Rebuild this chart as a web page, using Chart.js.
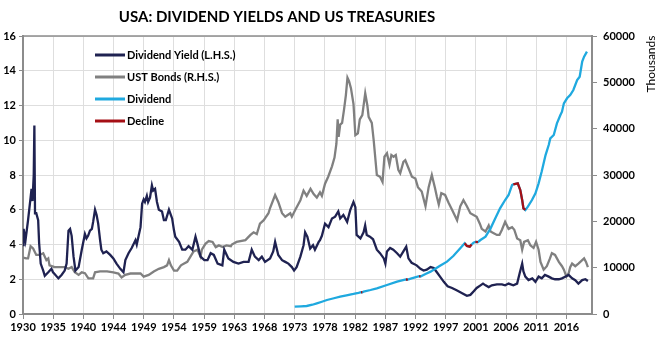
<!DOCTYPE html>
<html>
<head>
<meta charset="utf-8">
<script src="https://cdn.jsdelivr.net/npm/chart.js@4.4.0/dist/chart.umd.min.js"></script>
<style>
    html, body { margin: 0; padding: 0; background: #fff; }
</style>
</head>
<body>
<canvas id="myChart" width="665" height="338"></canvas>
<script>

const tickLabels = ['1930', '1935', '1940', '1944', '1949', '1954', '1959', '1963', '1968', '1973',
    '1978', '1982', '1987', '1992', '1997', '2001', '2006', '2011', '2016'];

const yieldYears = [1930.0, 1930.1, 1930.4, 1930.8, 1931.2, 1931.35, 1931.5, 1931.7, 1931.8, 1931.9,
    1932.1, 1932.4, 1932.55, 1932.8, 1933.2, 1933.45, 1934.0, 1934.5, 1934.75, 1935.0,
    1935.6, 1936.1, 1936.6, 1936.9, 1937.2, 1937.45, 1937.7, 1938.0, 1938.3, 1938.8,
    1939.3, 1939.8, 1940.05, 1940.3, 1940.6, 1940.9, 1941.1, 1941.4, 1941.65, 1941.9,
    1942.2, 1942.4, 1942.7, 1943.2, 1943.8, 1944.3, 1944.8, 1945.4, 1945.9, 1946.2,
    1946.7, 1947.2, 1947.8, 1948.0, 1948.3, 1948.6, 1948.85, 1949.1, 1949.3, 1949.6,
    1949.8, 1950.1, 1950.4, 1950.6, 1950.9, 1951.2, 1951.5, 1952.0, 1952.3, 1952.6,
    1953.1, 1953.6, 1953.9, 1954.1, 1954.7, 1955.2, 1955.7, 1956.2, 1956.8, 1957.3,
    1957.6, 1958.1, 1958.7, 1959.2, 1959.7, 1960.2, 1960.8, 1961.55, 1961.85, 1962.5,
    1963.3, 1964.1, 1964.9, 1965.7, 1966.2, 1966.7, 1967.3, 1967.8, 1968.3, 1969.1,
    1969.6, 1969.9, 1970.4, 1971.0, 1971.5, 1972.0, 1972.55, 1972.9, 1973.3, 1973.9,
    1974.4, 1974.65, 1975.0, 1975.45, 1975.9, 1976.2, 1976.8, 1977.0, 1977.3, 1977.8,
    1978.35, 1978.9, 1979.4, 1979.9, 1980.2, 1980.7, 1981.3, 1981.8, 1982.3, 1982.6,
    1982.8, 1983.4, 1983.9, 1984.15, 1984.4, 1984.9, 1985.4, 1986.0, 1986.5, 1987.1,
    1987.35, 1987.6, 1988.1, 1988.6, 1989.2, 1989.7, 1990.2, 1990.65, 1991.0, 1991.5,
    1992.3, 1992.9, 1993.4, 1993.9, 1994.5, 1995.0, 1995.5, 1996.0, 1996.6, 1997.2,
    1997.9, 1998.7, 1999.5, 2000.25, 2000.8, 2001.3, 2001.8, 2002.4, 2002.8, 2003.2,
    2003.7, 2004.2, 2005.0, 2005.8, 2006.3, 2006.85, 2007.6, 2008.2, 2008.6, 2009.0,
    2009.2, 2009.5, 2010.0, 2010.6, 2011.1, 2011.6, 2012.1, 2012.6, 2013.2, 2013.7,
    2014.2, 2014.8, 2015.3, 2015.8, 2016.35, 2016.9, 2017.4, 2017.9, 2018.5, 2019.0,
    2019.4];
const yieldValues = [3.96, 4.9, 4.25, 5.4, 6.7, 7.2, 6.5, 8.0, 10.85, 5.8,
    5.8, 5.4, 4.1, 2.9, 2.5, 2.2, 2.4, 2.6, 2.4, 2.3,
    2.05, 2.25, 2.5, 2.9, 4.8, 4.9, 4.5, 3.3, 2.5, 2.7,
    3.7, 4.6, 4.35, 4.5, 4.8, 4.9, 5.3, 6.0, 5.7, 5.2,
    4.25, 3.7, 3.5, 3.6, 3.4, 3.2, 2.9, 2.6, 2.4, 3.1,
    3.5, 3.8, 4.25, 4.0, 4.5, 5.0, 6.35, 6.6, 6.45, 6.8,
    6.45, 6.7, 7.4, 7.1, 7.2, 6.45, 6.0, 5.9, 5.4, 5.4,
    6.0, 5.5, 4.8, 4.45, 4.15, 3.7, 3.7, 3.9, 3.7, 4.45,
    4.05, 3.3, 3.1, 3.1, 3.5, 3.4, 2.9, 2.8, 3.7, 3.2,
    3.0, 2.9, 3.0, 3.0, 3.7, 3.3, 3.1, 3.3, 3.0, 3.2,
    3.6, 4.15, 3.4, 3.1, 3.0, 2.9, 2.7, 2.5, 2.7, 3.3,
    3.96, 4.7, 4.45, 3.77, 3.96, 3.7, 4.15, 4.25, 4.5, 5.2,
    5.0, 5.5, 5.6, 5.9, 5.5, 5.7, 5.3, 6.0, 6.45, 6.15,
    4.55, 4.35, 4.7, 5.1, 4.55, 4.45, 4.3, 3.7, 3.5, 3.2,
    2.9, 3.6, 3.8, 3.7, 3.5, 3.3, 3.6, 3.87, 3.2, 2.95,
    2.8, 2.6, 2.5, 2.55, 2.7, 2.65, 2.4, 2.15, 1.85, 1.6,
    1.5, 1.35, 1.2, 1.05, 1.1, 1.3, 1.5, 1.65, 1.75, 1.65,
    1.55, 1.65, 1.7, 1.7, 1.65, 1.75, 1.65, 1.75, 2.35, 2.9,
    2.45, 2.15, 1.95, 2.05, 1.85, 2.15, 2.05, 2.25, 2.15, 2.05,
    2.0, 2.0, 2.05, 2.15, 2.25, 2.05, 1.95, 1.75, 1.95, 2.0,
    1.9];

const bondYears = [1930.0, 1930.5, 1930.8, 1931.2, 1931.6, 1932.1, 1932.6, 1933.2, 1933.7, 1934.0,
    1934.2, 1935.0, 1935.8, 1936.6, 1937.2, 1937.7, 1938.2, 1938.8, 1939.3, 1939.8,
    1940.35, 1941.1, 1941.4, 1942.2, 1943.3, 1944.3, 1945.1, 1945.6, 1946.2, 1947.0,
    1947.8, 1948.6, 1949.1, 1949.9, 1950.7, 1951.5, 1952.3, 1952.8, 1953.1, 1953.4,
    1953.9, 1954.4, 1955.0, 1955.5, 1956.0, 1956.5, 1957.0, 1957.6, 1958.1, 1958.3,
    1958.9, 1959.4, 1960.0, 1960.5, 1961.0, 1961.6, 1962.2, 1962.9, 1963.05, 1963.8,
    1965.2, 1966.0, 1966.5, 1967.0, 1967.5, 1968.1, 1968.85, 1969.1, 1969.9, 1970.4,
    1971.0, 1971.5, 1972.3, 1972.55, 1973.1, 1973.9, 1974.4, 1974.9, 1975.5, 1976.0,
    1976.5, 1977.0, 1977.3, 1977.8, 1978.3, 1978.9, 1979.3, 1979.6, 1979.8, 1979.95,
    1980.2, 1980.5, 1980.8, 1981.1, 1981.35, 1981.6, 1981.9, 1982.3, 1982.6, 1983.0,
    1983.3, 1983.7, 1984.16, 1984.5, 1984.7, 1985.2, 1985.5, 1986.0, 1986.5, 1986.9,
    1987.2, 1987.6, 1988.0, 1988.3, 1988.65, 1989.0, 1989.4, 1989.7, 1990.2, 1990.5,
    1991.0, 1991.55, 1992.1, 1992.5, 1993.1, 1993.7, 1994.2, 1994.7, 1995.2, 1995.5,
    1995.8, 1996.2, 1996.8, 1997.35, 1997.9, 1998.7, 1999.2, 1999.7, 2000.25, 2000.8,
    2001.3, 2001.8, 2002.3, 2002.6, 2003.2, 2003.7, 2004.0, 2004.5, 2005.0, 2005.4,
    2005.8, 2006.3, 2006.85, 2007.4, 2007.75, 2008.2, 2008.7, 2009.0, 2009.3, 2009.9,
    2010.3, 2010.8, 2011.2, 2011.6, 2011.9, 2012.4, 2012.9, 2013.4, 2013.7, 2014.2,
    2014.8, 2015.3, 2015.6, 2016.0, 2016.35, 2016.6, 2016.9, 2017.4, 2017.9, 2018.5,
    2018.8, 2019.1, 2019.4];
const bondValues = [3.25, 3.2, 3.2, 3.9, 3.77, 3.4, 3.4, 3.5, 3.1, 3.2,
    2.8, 2.7, 2.7, 2.7, 2.6, 2.7, 2.4, 2.25, 2.4, 2.35,
    2.05, 2.05, 2.4, 2.45, 2.45, 2.4, 2.33, 2.1, 2.25, 2.33,
    2.33, 2.33, 2.15, 2.25, 2.45, 2.6, 2.7, 2.8, 3.1, 2.8,
    2.5, 2.5, 2.8, 2.9, 3.0, 3.3, 3.6, 3.7, 3.3, 3.7,
    4.05, 4.2, 4.15, 3.85, 3.95, 3.85, 3.95, 3.9, 4.0, 4.15,
    4.25, 4.55, 4.7, 4.6, 5.2, 5.4, 5.8, 6.1, 6.85, 6.45,
    5.8, 5.6, 5.8, 5.6, 6.0, 6.55, 7.1, 6.8, 7.2, 6.9,
    6.7, 7.0, 6.8, 7.5, 7.9, 8.5, 9.0, 9.8, 11.2, 10.2,
    10.9, 11.0, 11.75, 12.6, 13.6, 13.4, 13.0, 12.1, 10.3, 10.4,
    11.2, 11.45, 12.7, 12.0, 11.35, 11.0, 10.0, 8.0, 7.9, 7.6,
    9.05, 9.25, 8.6, 9.15, 9.05, 9.15, 8.3, 8.1, 8.75, 8.85,
    8.4, 7.9, 7.8, 7.3, 7.05, 6.2, 7.3, 8.0, 7.25, 6.75,
    6.3, 6.95, 6.85, 6.4, 6.0, 5.4, 6.2, 6.55, 6.2, 5.8,
    5.7, 5.6, 5.2, 4.9, 4.75, 5.1, 4.75, 4.65, 4.55, 4.55,
    4.85, 5.3, 4.9, 5.0, 4.85, 4.35, 4.25, 3.7, 4.15, 4.25,
    3.95, 3.8, 4.15, 3.7, 3.0, 2.55, 2.75, 3.2, 3.5, 3.4,
    3.0, 2.75, 2.55, 2.15, 2.35, 2.7, 2.9, 2.75, 2.9, 3.1,
    3.2, 3.0, 2.7];

const divYears = [1973.0, 1974.0, 1974.9, 1975.8, 1976.5, 1977.3, 1978.1, 1979.2, 1980.2, 1981.2,
    1982.3, 1983.1, 1983.5, 1983.7, 1983.9, 1985.0, 1986.0, 1987.6, 1989.2, 1990.6,
    1990.9, 1991.5, 1992.7, 1992.9, 1993.7, 1994.5, 1995.3, 1996.0, 1997.1, 1998.1,
    1999.2, 1999.9, 2000.25, 2000.7, 2001.0, 2001.3, 2001.6, 2002.0, 2002.4, 2003.2,
    2004.0, 2004.75, 2005.5, 2006.3, 2006.85, 2007.4, 2007.6, 2008.3, 2008.7, 2009.0,
    2009.2, 2009.5, 2009.9, 2010.55, 2011.1, 2011.6, 2012.1, 2012.7, 2013.2, 2013.45,
    2014.0, 2014.5, 2015.05, 2015.3, 2015.6, 2016.1, 2016.6, 2017.1, 2017.7, 2018.1,
    2018.5, 2018.8, 2019.25];
const divValues = [1580, 1650, 1730, 2000, 2300, 2650, 3020, 3400, 3740, 4030,
    4320, 4570, 4720, 4690, 4820, 5180, 5540, 6260, 6980, 7450,
    7420, 7700, 8150, 8100, 8650, 9140, 9800, 10400, 11300, 12520,
    14170, 15250, 14680, 14530, 15000, 15400, 15550, 15500, 15970, 16690,
    18490, 20650, 22800, 24600, 25680, 27840, 28000, 28200, 26760, 24600,
    22800, 22450, 23160, 24600, 26040, 28200, 30800, 34300, 36470, 37900,
    38630, 41150, 42950, 43670, 45470, 46550, 47260, 48340, 50500, 51220,
    54460, 55540, 56620];
const declineValues = [null, null, null, null, null, null, null, null, null, null,
    null, null, 4720, 4690, null, null, null, null, null, 7450,
    7420, null, 8150, 8100, null, null, null, null, null, null,
    null, 15250, 14680, 14530, 15000, null, 15550, 15500, null, null,
    null, null, null, null, null, null, 28000, 28200, 26760, 24600,
    22800, 22450, null, null, null, null, null, null, null, null,
    null, null, null, null, null, null, null, null, null, null,
    null, null, null];

const tickStep = 86 / 18;
const fontFamily = 'Lato, "Open Sans", sans-serif';

function toPoints(xs, ys){
    return xs.map((x, i) => ({ x: x, y: ys[i] }));
}

const titlePlugin = {
    id: 'titlePlugin',
    afterDraw(chart){
        const ctx = chart.ctx;
        const area = chart.chartArea;
        ctx.save();
        ctx.fillStyle = '#000';
        ctx.font = 'bold 15px ' + fontFamily;
        ctx.textAlign = 'center';
        ctx.textBaseline = 'middle';
        ctx.fillText('USA: DIVIDEND YIELDS AND US TREASURIES', 277, 17);

        // top border of the plot
        ctx.strokeStyle = '#8c8c8c';
        ctx.lineWidth = 1.5;
        ctx.beginPath();
        ctx.moveTo(area.left, area.top);
        ctx.lineTo(area.right, area.top);
        ctx.stroke();

        // right axis title, reads bottom to top
        ctx.font = '12px ' + fontFamily;
        ctx.translate(651, 64);
        ctx.rotate(-Math.PI / 2);
        ctx.fillText('Thousands', 0, 0);
        ctx.restore();
    }
};

const legendPlugin = {
    id: 'legendPlugin',
    afterDraw(chart){
        const ctx = chart.ctx;
        ctx.save();
        ctx.font = 'bold 11px ' + fontFamily;
        ctx.textBaseline = 'middle';
        ctx.textAlign = 'left';
        chart.data.datasets.forEach((ds, i) => {
            const y = 55 + i * 22;
            ctx.strokeStyle = ds.borderColor;
            ctx.lineWidth = 3;
            ctx.beginPath();
            ctx.moveTo(95, y);
            ctx.lineTo(125, y);
            ctx.stroke();
            ctx.fillStyle = '#000';
            ctx.fillText(ds.label, 127, y);
        });
        ctx.restore();
    }
};

function getChart(){
    const ctx = document.getElementById('myChart');

    new Chart(ctx, {
        type: 'line',
        data: {
            datasets: [{
                label: 'Dividend Yield (L.H.S.)',
                data: toPoints(yieldYears, yieldValues),
                borderColor: '#1f2251',
                yAxisID: 'y',
                order: 2
            }, {
                label: 'UST Bonds (R.H.S.)',
                data: toPoints(bondYears, bondValues),
                borderColor: '#808080',
                yAxisID: 'y',
                order: 3
            }, {
                label: 'Dividend',
                data: toPoints(divYears, divValues),
                borderColor: '#1fa9df',
                yAxisID: 'y1',
                order: 1
            }, {
                label: 'Decline',
                data: toPoints(divYears, declineValues),
                borderColor: '#a50f15',
                yAxisID: 'y1',
                spanGaps: false,
                order: 0
            }]
        },
        options: {
            responsive: false,
            animation: false,
            devicePixelRatio: 1,
            layout: { padding: { top: 36, left: 0, right: 0, bottom: 0 } },
            elements: {
                point: { radius: 0 },
                line: { borderWidth: 2.3, tension: 0, fill: false }
            },
            plugins: {
                legend: { display: false },
                tooltip: { enabled: false },
                title: { display: false }
            },
            scales: {
                x: {
                    type: 'linear',
                    min: 1930,
                    max: 2020.05,
                    afterBuildTicks: (scale) => {
                        scale.ticks = tickLabels.map((t, i) => ({ value: 1930 + i * tickStep }));
                    },
                    afterFit: (scale) => { scale.height = 24; },
                    ticks: {
                        autoSkip: false,
                        maxRotation: 0,
                        padding: 2,
                        color: '#000',
                        font: { family: fontFamily, size: 11, weight: 'bold' },
                        callback: (value, index) => tickLabels[index]
                    },
                    grid: { color: '#dedede', lineWidth: 1, tickLength: 5, tickColor: '#8c8c8c' },
                    border: { color: '#8c8c8c', width: 2 }
                },
                y: {
                    position: 'left',
                    min: 0,
                    max: 16,
                    afterFit: (scale) => { scale.width = 23; },
                    ticks: {
                        stepSize: 2,
                        padding: 3,
                        color: '#000',
                        font: { family: fontFamily, size: 11, weight: 'bold' }
                    },
                    grid: { color: '#dedede', lineWidth: 1, tickLength: 4, tickColor: '#8c8c8c' },
                    border: { color: '#8c8c8c', width: 2 }
                },
                y1: {
                    position: 'right',
                    min: 0,
                    max: 60000,
                    afterFit: (scale) => { scale.width = 73; },
                    ticks: {
                        stepSize: 10000,
                        padding: 6,
                        color: '#000',
                        font: { family: fontFamily, size: 11, weight: 'bold' },
                        callback: (value) => String(value)
                    },
                    grid: { drawOnChartArea: false, tickLength: 5, tickColor: '#8c8c8c' },
                    border: { color: '#8c8c8c', width: 2 }
                }
            }
        },
        plugins: [titlePlugin, legendPlugin]
    });
}

document.addEventListener('DOMContentLoaded', (event) => {
    getChart();
});
</script>
</body>
</html>
